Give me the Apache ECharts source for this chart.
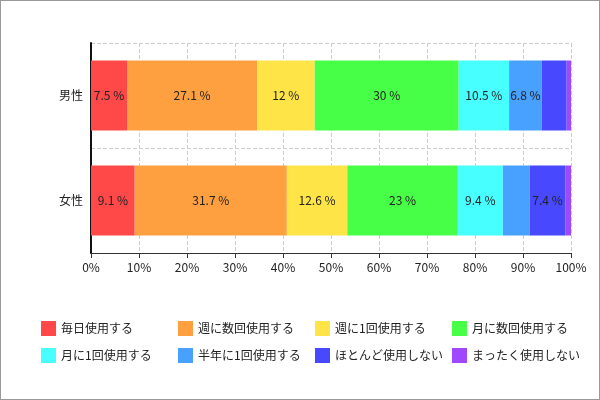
<!DOCTYPE html>
<html><head><meta charset="utf-8">
<script src="https://cdn.jsdelivr.net/npm/echarts@6/dist/echarts.min.js"></script>
<style>html,body{margin:0;padding:0;background:#fff}#c{width:598px;height:398px;border:1px solid #999}</style>
</head><body><div id="c"></div>
<script>
const categories = ['男性','女性'];
const seriesNames = ['毎日使用する','週に数回使用する','週に1回使用する','月に数回使用する','月に1回使用する','半年に1回使用する','ほとんど使用しない','まったく使用しない'];
const male   = [7.5, 27.1, 12, 30, 10.5, 6.8, 5.2, 0.9];
const female = [9.1, 31.7, 12.6, 23, 9.4, 5.6, 7.4, 1.2];
const colors = ['#ff4848','#ffa040','#ffe448','#48ff48','#48ffff','#48a0ff','#4848ff','#a048ff'];
const xTicks = ['0%','10%','20%','30%','40%','50%','60%','70%','80%','90%','100%'];

const series = seriesNames.map((n,i)=>({
  name:n, type:'bar', stack:'s', barWidth:70,
  itemStyle:{color:colors[i]},
  data:[male[i], female[i]],
  label:{show:true, color:'#222', fontSize:12,
    formatter:p=> p.value>=6 ? p.value+' %' : ''}
}));
const legends = seriesNames.map((n,i)=>({
  data:[n], left:35+(i%4)*137, top:315+Math.floor(i/4)*27,
  itemWidth:15, itemHeight:15, icon:'rect',
  textStyle:{fontSize:12,color:'#222'}
}));
const chart = echarts.init(document.getElementById('c'));
chart.setOption({
  animation:false,
  textStyle:{fontFamily:'Noto Sans CJK JP'},
  color:colors,
  legend:legends,
  grid:{left:90,right:28,top:42,bottom:146},
  xAxis:{type:'value',min:0,max:100,interval:10,
    axisLabel:{formatter:v=>v+'%',color:'#222',fontSize:12},
    axisLine:{show:true,lineStyle:{color:'#333'}},axisTick:{show:true},
    splitLine:{lineStyle:{type:'dashed',color:'#ccc'}}},
  yAxis:{type:'category',data:categories,inverse:true,
    axisLabel:{color:'#222',fontSize:12},
    axisLine:{lineStyle:{color:'#111',width:2}},
    splitLine:{show:true,lineStyle:{type:'dashed',color:'#ccc'}}},
  series:series
});
</script></body></html>
